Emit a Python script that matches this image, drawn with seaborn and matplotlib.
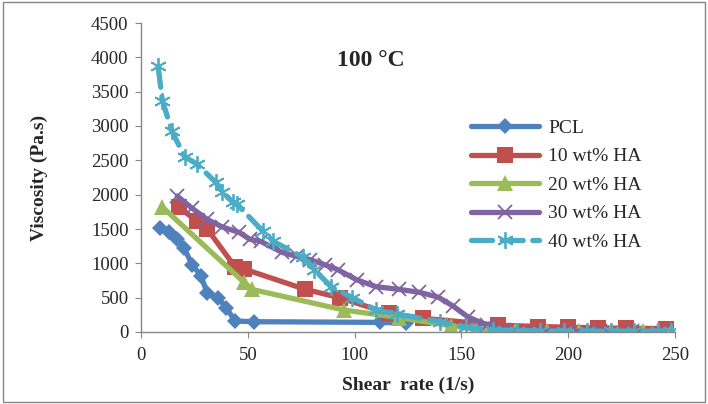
import matplotlib
matplotlib.use("Agg")
import matplotlib.pyplot as plt
import pandas as pd
import seaborn as sns
from matplotlib.patches import Rectangle

# Shear rate (1/s) and viscosity (Pa.s) for each sample
pcl_x = [9, 13, 17, 20, 24, 28, 31, 36, 40, 44, 53, 112, 124]
pcl_y = [1510, 1450, 1360, 1230, 980, 820, 570, 500, 350, 160, 150, 140, 130]

ha10_x = [18, 26, 31, 44, 48, 77, 93, 116, 132, 167, 186, 200, 214, 227, 246]
ha10_y = [1820, 1610, 1500, 950, 920, 620, 500, 270, 200, 100, 80, 70, 60, 55, 50]

ha20_x = [10, 48, 52, 95, 121, 145, 157, 175, 190, 205, 220, 235, 248]
ha20_y = [1820, 730, 620, 320, 210, 90, 40, 20, 15, 10, 10, 10, 10]

ha30_x = [17, 24, 31, 38, 46, 51, 56, 66, 73, 79, 86, 92, 101, 110, 121, 130,
          139, 146, 153, 162, 170, 185, 200, 215, 230, 245]
ha30_y = [1980, 1800, 1640, 1530, 1450, 1350, 1320, 1160, 1100, 1055, 980, 910,
          760, 660, 620, 580, 510, 380, 220, 100, 30, 20, 15, 10, 10, 10]

ha40_x = [8, 10, 14.5, 20.5, 26, 35, 38, 43, 45, 57, 62, 76, 81, 89, 99, 110,
          120, 140, 152, 165, 176, 187, 198, 209, 220, 231, 242, 248]
ha40_y = [3870, 3370, 2920, 2550, 2450, 2180, 2040, 1890, 1860, 1470, 1320, 1085,
          910, 660, 500, 320, 260, 150, 70, 30, 20, 15, 10, 10, 10, 10, 10, 10]

labels = ["PCL", "10 wt% HA", "20 wt% HA", "30 wt% HA", "40 wt% HA"]
colors = ["#4F81BD", "#C0504D", "#9BBB59", "#8064A2", "#4BACC6"]

series = [(pcl_x, pcl_y), (ha10_x, ha10_y), (ha20_x, ha20_y),
          (ha30_x, ha30_y), (ha40_x, ha40_y)]

# marker, marker size, marker edge width, line style
styles = [
    ("D", 8, 0, "-"),
    ("s", 11, 0, "-"),
    ("^", 11, 0, "-"),
    ("x", 10, 1.3, "-"),
    ((6, 2, 0), 12, 1.3, (0, (4, 1.8))),
]

sns.set_style("white")
plt.rcParams["font.family"] = ["Liberation Serif", "DejaVu Serif"]

fig = plt.figure(figsize=(7.08, 4.04), dpi=100)
ax = fig.add_axes([141 / 708, 1 - 332 / 404, 534 / 708, 309 / 404])

for (xs, ys), lab, col, (mk, ms, mew, ls) in zip(series, labels, colors, styles):
    df = pd.DataFrame({"rate": xs, "visc": ys})
    sns.lineplot(data=df, x="rate", y="visc", ax=ax, color=col, label=lab,
                 marker=mk, markersize=ms, markeredgewidth=mew,
                 markeredgecolor=col, linestyle=ls, linewidth=3.8,
                 estimator=None, sort=False,
                 solid_capstyle="round", dash_capstyle="round")

ax.set_xlim(0, 250)
ax.set_ylim(0, 4500)
ax.set_xticks(range(0, 251, 50))
ax.set_yticks(range(0, 4501, 500))
ax.tick_params(axis="both", labelsize=13.5, length=4, direction="out",
               color="#868686", bottom=True, left=True)
ax.tick_params(axis="x", pad=7)
ax.tick_params(axis="y", pad=5)

for side in ["top", "right"]:
    ax.spines[side].set_visible(False)
for side in ["left", "bottom"]:
    ax.spines[side].set_color("#868686")
    ax.spines[side].set_linewidth(1)

ax.set_xlabel("Shear  rate (1/s)", fontsize=14, fontweight="bold", labelpad=9)
ax.set_ylabel("Viscosity (Pa.s)", fontsize=14, fontweight="bold", labelpad=31)

ax.text(0.43, 0.88, "100 \u00b0C", transform=ax.transAxes, fontsize=17,
        fontweight="bold", ha="center", va="center")

ax.legend(loc="upper left", bbox_to_anchor=(0.6, 0.72), frameon=False,
          fontsize=14, handlelength=3.5, labelspacing=0.56, borderpad=0,
          handletextpad=0.45)

# chart area border
fig.patches.append(Rectangle((0.004, 0.006), 0.992, 0.988,
                             transform=fig.transFigure, fill=False,
                             edgecolor="#868686", linewidth=1))

fig.savefig("out.png", dpi=100)
